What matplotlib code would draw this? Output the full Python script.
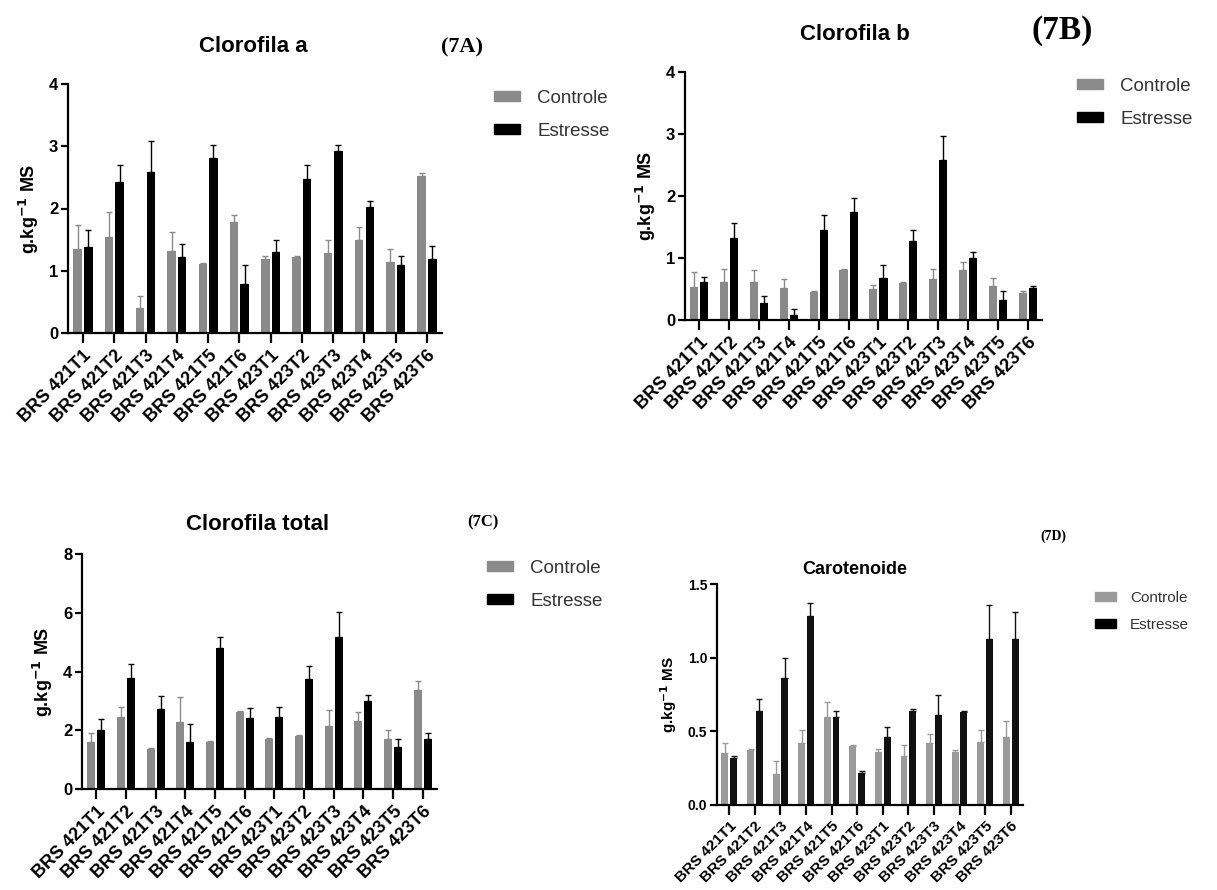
import matplotlib
matplotlib.use("Agg")
import matplotlib.pyplot as plt
from matplotlib.patches import Patch
from matplotlib.ticker import FormatStrFormatter
import numpy as np

plt.rcParams['font.family'] = ['Liberation Sans', 'DejaVu Sans']
plt.rcParams['mathtext.default'] = 'regular'

categories = ['BRS 421T1', 'BRS 421T2', 'BRS 421T3', 'BRS 421T4', 'BRS 421T5', 'BRS 421T6',
              'BRS 423T1', 'BRS 423T2', 'BRS 423T3', 'BRS 423T4', 'BRS 423T5', 'BRS 423T6']

# Clorofila a
ctrl_a = [1.35, 1.55, 0.40, 1.32, 1.11, 1.79, 1.19, 1.22, 1.29, 1.50, 1.14, 2.53]
ctrl_a_err = [0.39, 0.39, 0.19, 0.31, 0.02, 0.11, 0.04, 0.02, 0.21, 0.21, 0.21, 0.04]
est_a = [1.38, 2.42, 2.59, 1.22, 2.81, 0.78, 1.30, 2.47, 2.92, 2.02, 1.10, 1.19]
est_a_err = [0.28, 0.28, 0.50, 0.21, 0.21, 0.31, 0.20, 0.23, 0.10, 0.10, 0.13, 0.20]

# Clorofila b
ctrl_b = [0.54, 0.61, 0.61, 0.51, 0.45, 0.81, 0.50, 0.59, 0.66, 0.81, 0.55, 0.44]
ctrl_b_err = [0.23, 0.21, 0.20, 0.15, 0.01, 0.01, 0.07, 0.02, 0.17, 0.12, 0.12, 0.02]
est_b = [0.61, 1.33, 0.28, 0.08, 1.45, 1.75, 0.68, 1.28, 2.58, 1.00, 0.32, 0.52]
est_b_err = [0.08, 0.23, 0.10, 0.09, 0.24, 0.21, 0.20, 0.17, 0.38, 0.09, 0.15, 0.03]

# Clorofila total
ctrl_t = [1.60, 2.45, 1.37, 2.28, 1.59, 2.61, 1.70, 1.81, 2.13, 2.32, 1.70, 3.38]
ctrl_t_err = [0.30, 0.33, 0.02, 0.85, 0.03, 0.03, 0.03, 0.03, 0.57, 0.30, 0.32, 0.30]
est_t = [2.02, 3.77, 2.72, 1.60, 4.79, 2.41, 2.44, 3.75, 5.17, 3.01, 1.43, 1.71]
est_t_err = [0.36, 0.49, 0.43, 0.61, 0.38, 0.34, 0.35, 0.44, 0.84, 0.20, 0.28, 0.19]

# Carotenoide
ctrl_c = [0.35, 0.37, 0.21, 0.42, 0.60, 0.40, 0.36, 0.33, 0.42, 0.36, 0.43, 0.46]
ctrl_c_err = [0.07, 0.01, 0.09, 0.09, 0.10, 0.01, 0.02, 0.08, 0.06, 0.01, 0.08, 0.11]
est_c = [0.32, 0.64, 0.86, 1.28, 0.60, 0.22, 0.46, 0.64, 0.61, 0.63, 1.13, 1.13]
est_c_err = [0.01, 0.08, 0.14, 0.09, 0.04, 0.01, 0.07, 0.01, 0.14, 0.01, 0.23, 0.18]

W, H = 1217, 890
fig = plt.figure(figsize=(W / 100, H / 100), dpi=100)


def px_axes(l, t, r, b):
    return fig.add_axes([l / W, 1 - b / H, (r - l) / W, (b - t) / H])


def panel(ax, ctrl, ctrl_err, est, est_err, ymax, ystep, fs=13,
          fmt=None, gray='#8a8a8a', black='#000000'):
    x = np.arange(len(categories))
    w = 0.27
    n = len(categories)
    ax.bar(x - 0.17, ctrl, w, color=gray,
           yerr=[np.zeros(n), ctrl_err], error_kw=dict(ecolor=gray, elinewidth=1, capsize=2, capthick=1))
    ax.bar(x + 0.17, est, w, color=black,
           yerr=[np.zeros(n), est_err], error_kw=dict(ecolor=black, elinewidth=1, capsize=2, capthick=1))
    ax.set_xlim(-0.48, n - 0.52)
    ax.set_ylim(0, ymax)
    ax.set_yticks(np.arange(0, ymax + ystep / 2, ystep))
    if fmt:
        ax.yaxis.set_major_formatter(FormatStrFormatter(fmt))
    ax.set_xticks(x)
    ax.set_xticklabels(categories, rotation=45, ha='right', va='top',
                       rotation_mode='anchor', fontweight='bold', fontsize=fs)
    for s in ['top', 'right']:
        ax.spines[s].set_visible(False)
    for s in ['left', 'bottom']:
        ax.spines[s].set_linewidth(1.6)
    ax.tick_params(axis='y', length=5, width=1.6, labelsize=fs - 1, pad=2)
    ax.tick_params(axis='x', length=7, width=1.6, pad=3)
    for lab in ax.get_yticklabels():
        lab.set_fontweight('bold')
    ax.set_ylabel(r'g.kg$^{\mathbf{-1}}$ MS', fontweight='bold', fontsize=fs, labelpad=6)


def legend(l, t, fs, gray='#8a8a8a'):
    handles = [Patch(color=gray, label='Controle'), Patch(color='#000000', label='Estresse')]
    fig.legend(handles=handles, loc='upper left', bbox_to_anchor=(l / W, 1 - t / H),
               frameon=False, fontsize=fs, handlelength=1.4, handleheight=0.45,
               handletextpad=0.9, labelspacing=0.85, borderpad=0, borderaxespad=0,
               labelcolor='#333333')


axA = px_axes(68, 84, 442, 333)
panel(axA, ctrl_a, ctrl_a_err, est_a, est_a_err, 4, 1)
legend(494, 90, 13.5)
fig.text(253 / W, 1 - 47 / H, 'Clorofila a', ha='center', va='center', fontsize=16, fontweight='bold')
fig.text(462 / W, 1 - 47 / H, '(7A)', ha='center', va='center', fontsize=16,
         fontweight='bold', family='Liberation Serif')

axB = px_axes(685, 72, 1042, 320)
panel(axB, ctrl_b, ctrl_b_err, est_b, est_b_err, 4, 1)
legend(1077, 78, 13.5)
fig.text(855 / W, 1 - 35 / H, 'Clorofila b', ha='center', va='center', fontsize=16, fontweight='bold')
fig.text(1062 / W, 1 - 31 / H, '(7B)', ha='center', va='center', fontsize=24,
         fontweight='bold', family='Liberation Serif')

axC = px_axes(82, 554, 437, 789)
panel(axC, ctrl_t, ctrl_t_err, est_t, est_t_err, 8, 2)
legend(487, 560, 13.5)
fig.text(258 / W, 1 - 524 / H, 'Clorofila total', ha='center', va='center', fontsize=16, fontweight='bold')
fig.text(483 / W, 1 - 522 / H, '(7C)', ha='center', va='center', fontsize=12,
         fontweight='bold', family='Liberation Serif')

axD = px_axes(717, 584, 1023, 805)
panel(axD, ctrl_c, ctrl_c_err, est_c, est_c_err, 1.5, 0.5, fs=11, fmt='%.1f',
      gray='#9a9a9a', black='#111111')
legend(1095, 591, 11, gray='#9a9a9a')
fig.text(855 / W, 1 - 570 / H, 'Carotenoide', ha='center', va='center', fontsize=13, fontweight='bold')
fig.text(1053 / W, 1 - 536 / H, '(7D)', ha='center', va='center', fontsize=10,
         fontweight='bold', family='Liberation Serif')

fig.savefig('out.png', dpi=100, facecolor='white')
